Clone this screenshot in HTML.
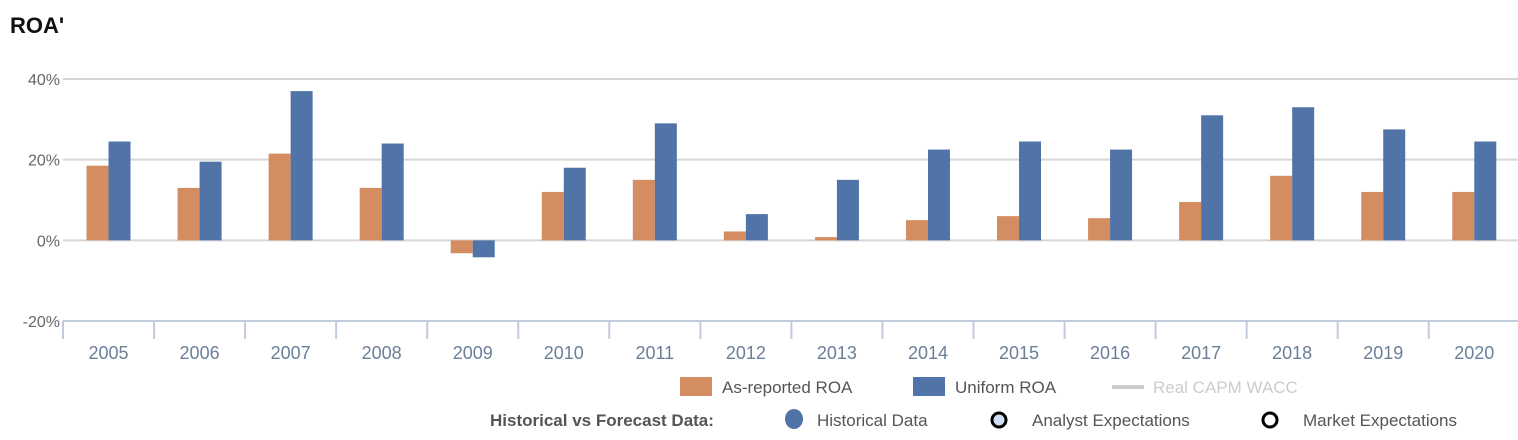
<!DOCTYPE html>
<html><head><meta charset="utf-8"><style>
body{margin:0;background:#fff;width:1518px;height:440px;overflow:hidden;font-family:"Liberation Sans",sans-serif}
svg{display:block}
</style></head><body>
<svg id="c" width="1518" height="440">
<text x="10" y="33" font-size="22" font-weight="bold" fill="#111">ROA'</text>
<g id="grid"></g><g id="bars"></g><g id="xaxis"></g>
<g>
<rect x="680" y="377" width="32" height="19" fill="#D48C61"/>
<text x="722" y="393" font-size="17" fill="#555">As-reported ROA</text>
<rect x="913" y="377" width="32" height="19" fill="#5073A8"/>
<text x="955" y="393" font-size="17" fill="#555">Uniform ROA</text>
<rect x="1112" y="385" width="32" height="4" fill="#ccc"/>
<text x="1153" y="393" font-size="17" fill="#ccc">Real CAPM WACC</text>
<text x="490" y="426" font-size="17" font-weight="bold" fill="#555">Historical vs Forecast Data:</text>
<ellipse cx="794" cy="419" rx="9" ry="10" fill="#5073A8"/>
<text x="817" y="426" font-size="17" fill="#555">Historical Data</text>
<circle cx="999" cy="420" r="7" fill="#cfe0f5" stroke="#000" stroke-width="3"/>
<text x="1032" y="426" font-size="17" fill="#555">Analyst Expectations</text>
<circle cx="1270" cy="420" r="7" fill="#fff" stroke="#000" stroke-width="3"/>
<text x="1303" y="426" font-size="17" fill="#555">Market Expectations</text>
</g>
</svg>
<script>
const categories=["2005","2006","2007","2008","2009","2010","2011","2012","2013","2014","2015","2016","2017","2018","2019","2020"];
const asReported=[18.5,13,21.5,13,-3.2,12,15,2.2,0.8,5,6,5.5,9.5,16,12,12];
const uniform=[24.5,19.5,37,24,-4.2,18,29,6.5,15,22.5,24.5,22.5,31,33,27.5,24.5];
const yTicks=[40,20,0,-20];
const NS="http://www.w3.org/2000/svg";
const x0=63,bw=91.05,yTop=79,yBot=321,vMax=40,vMin=-20;
const y=v=>yTop+(vMax-v)*(yBot-yTop)/(vMax-vMin);
const xc=i=>x0+bw*(i+0.5);
function mk(t,a,p){const e=document.createElementNS(NS,t);for(const k in a)e.setAttribute(k,a[k]);p.appendChild(e);return e;}
const grid=document.getElementById('grid'),bars=document.getElementById('bars'),xa=document.getElementById('xaxis');
yTicks.forEach(t=>{
 if(t!==vMin){const l=mk('line',{x1:x0,x2:1521,y1:y(t),y2:y(t),stroke:'#d6d6d6','stroke-width':2},grid);
 
 }
 const tx=mk('text',{x:x0-3,y:y(t)+6,'text-anchor':'end','font-size':16,fill:'#666'},grid);
 tx.textContent=t+'%';
 
 
});
const ax=mk('line',{x1:x0,x2:1521,y1:yBot,y2:yBot,stroke:'#c0cbdc','stroke-width':2},xa);


for(let i=0;i<=categories.length;i++){
 const t=mk('line',{x1:x0+bw*i,x2:x0+bw*i,y1:yBot,y2:yBot+18,stroke:'#c0cbdc','stroke-width':2},xa);
 
 
}
categories.forEach((c,i)=>{
 const t=mk('text',{x:xc(i),y:359,'text-anchor':'middle','font-size':18,fill:'#6b7f99'},xa);
 t.textContent=c;
 
 
 [[asReported[i],'#D48C61',-22,'bar-as-reported-'+c],[uniform[i],'#5073A8',0,'bar-uniform-'+c]].forEach(([v,col,off,nm])=>{
  const top=Math.min(y(v),y(0)),h=Math.abs(y(v)-y(0));
  const r=mk('rect',{x:xc(i)+off,y:top,width:22,height:h,fill:col},bars);
  
  
 });
});
</script>
</body></html>
